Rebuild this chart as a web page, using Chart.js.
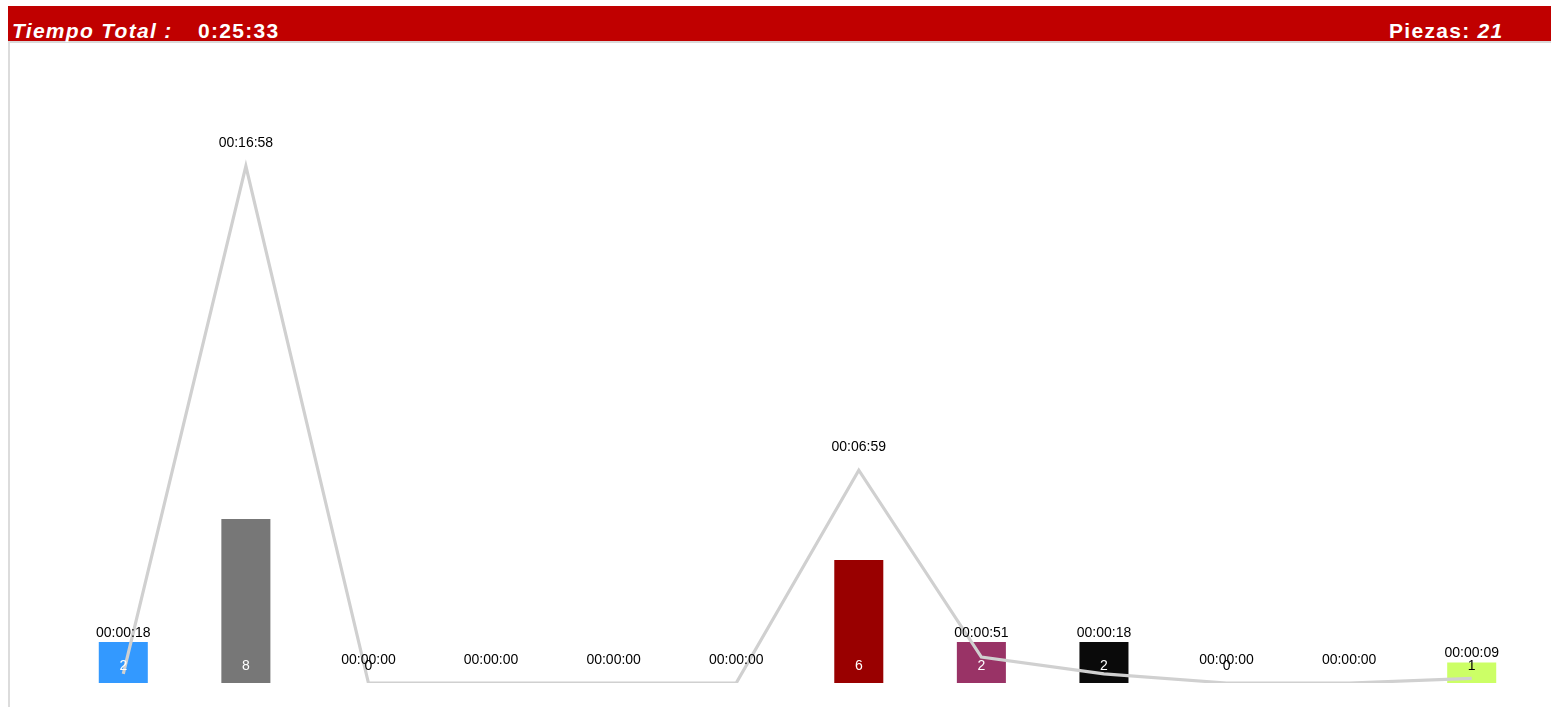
<!DOCTYPE html>
<html>
<head>
<meta charset="utf-8">
<script src="https://cdn.jsdelivr.net/npm/chart.js@4.4.0/dist/chart.umd.min.js"></script>
<style>
  body { margin: 0; background: #fff; font-family: Arial, "Liberation Sans", sans-serif; }
  #header {
    position: absolute; left: 8px; top: 6px; width: 1543px; height: 35px;
    background: #c00000; color: #fff; font-weight: bold; font-size: 21px;
    letter-spacing: 1.3px; border-bottom: 2px solid #d9d9d9;
  }
  #header span { position: absolute; top: 14px; line-height: 21px; }
  #leftLine { position: absolute; left: 8px; top: 43px; width: 2px; height: 664px; background: #dcdcdc; }
  #wrap { position: absolute; left: 10px; top: 43px; width: 1541px; height: 664px; }
</style>
</head>
<body>
<div id="header">
  <span style="left:4px;font-style:italic">Tiempo Total :</span>
  <span style="left:190px">0:25:33</span>
  <span style="left:1381px">Piezas: <i>21</i></span>
</div>
<div id="leftLine"></div>
<div id="wrap"><canvas id="myChart"></canvas></div>
<script>
const categories = ['1', '2', '3', '4', '5', '6', '7', '8', '9', '10', '11', '12'];
// null = sin registro (no count label shown)
const piezas = [2, 8, 0, null, null, null, 6, 2, 2, 0, null, 1];
const segundos = [18, 1018, 0, 0, 0, 0, 419, 51, 18, 0, 0, 9];
const barColors = ['#3399ff', '#777777', '#990000', '#990000', '#990000', '#990000',
                   '#990000', '#993366', '#0a0a0a', '#990000', '#990000', '#ccff66'];
const barTextColors = ['#fff', '#fff', '#000', '#000', '#000', '#000',
                       '#fff', '#fff', '#fff', '#000', '#000', '#000'];

function fmt(s) {
    const h = Math.floor(s / 3600), m = Math.floor((s % 3600) / 60), x = s % 60;
    return [h, m, x].map(v => String(v).padStart(2, '0')).join(':');
}

const labelPlugin = {
    id: 'labels',
    afterDatasetsDraw(chart) {
        const ctx = chart.ctx;
        const bars = chart.getDatasetMeta(1).data;
        const pts = chart.getDatasetMeta(0).data;
        const base = chart.scales.y.getPixelForValue(0);
        ctx.save();
        ctx.font = '14px Arial, "Liberation Sans"';
        ctx.textAlign = 'center';
        ctx.textBaseline = 'middle';
        // counts inside the bars
        pts.forEach((p, i) => {
            if (piezas[i] === null) return;
            ctx.fillStyle = barTextColors[i];
            ctx.fillText(String(piezas[i]), p.x, base - 17);
        });
        // times above the line
        pts.forEach((p, i) => {
            const top = piezas[i] ? bars[i].y : base;
            const y = Math.min(p.y - 23, top - 9);
            ctx.fillStyle = '#000';
            ctx.fillText(fmt(segundos[i]), p.x, y);
        });
        ctx.restore();
    }
};

const ctx = document.getElementById('myChart').getContext('2d');
new Chart(ctx, {
    data: {
        labels: categories,
        datasets: [{
            type: 'line',
            label: 'Tiempo',
            data: segundos,
            yAxisID: 'y1',
            borderColor: '#d0d0d0',
            borderWidth: 3.2,
            pointRadius: 0,
            tension: 0,
            order: 0
        }, {
            type: 'bar',
            label: 'Piezas',
            data: piezas,
            yAxisID: 'y',
            backgroundColor: barColors,
            barPercentage: 0.4,
            categoryPercentage: 1,
            order: 1
        }]
    },
    options: {
        responsive: true,
        maintainAspectRatio: false,
        animation: false,
        layout: { padding: { left: 52, right: 18, top: 20, bottom: 24 } },
        plugins: { legend: { display: false }, tooltip: { enabled: false } },
        scales: {
            x: { display: false },
            y: { display: false, min: 0, max: 30.25 },
            y1: { display: false, min: 0, max: 1221 }
        }
    },
    plugins: [labelPlugin]
});
</script>
</body>
</html>
